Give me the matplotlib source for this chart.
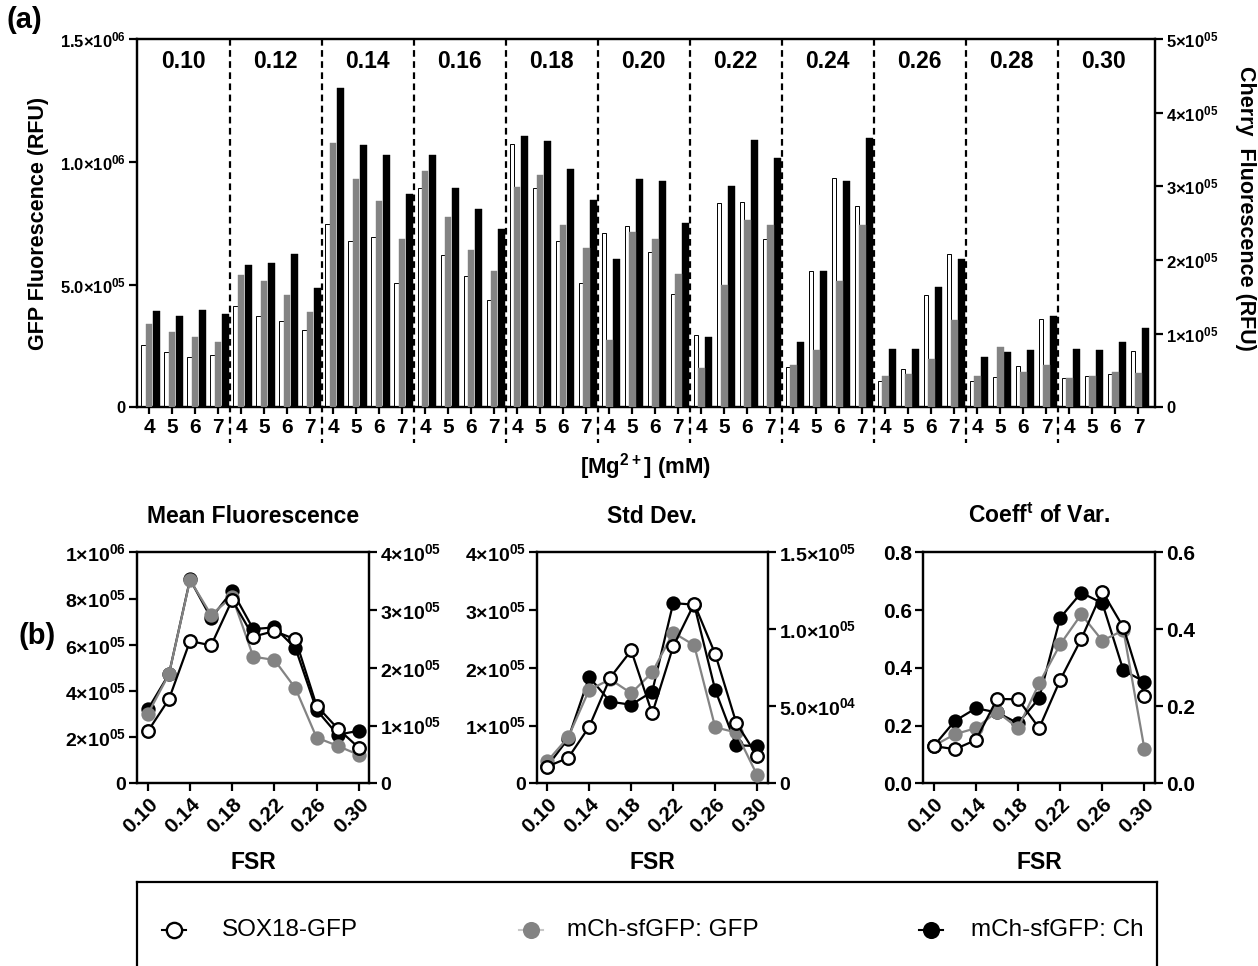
import matplotlib
matplotlib.use("Agg")
import matplotlib.pyplot as plt
import matplotlib.transforms as mtransforms
import numpy as np

plt.rcParams['font.family'] = ['Liberation Sans', 'DejaVu Sans']
plt.rcParams['font.weight'] = 'bold'
plt.rcParams['mathtext.fontset'] = 'custom'
plt.rcParams['mathtext.rm'] = 'Liberation Sans:bold'
plt.rcParams['mathtext.bf'] = 'Liberation Sans:bold'
plt.rcParams['mathtext.it'] = 'Liberation Sans:bold'
plt.rcParams['mathtext.default'] = 'rm'

# ---------------- data: panel (a) ----------------
fsr_groups = ["0.10", "0.12", "0.14", "0.16", "0.18", "0.20", "0.22", "0.24", "0.26", "0.28", "0.30"]
mg_levels = ["4", "5", "6", "7"]

# SOX18-GFP (left axis, RFU)
sox18_gfp = [2.53e5, 2.25e5, 2.04e5, 2.12e5,
             4.11e5, 3.72e5, 3.52e5, 3.14e5,
             7.47e5, 6.76e5, 6.94e5, 5.08e5,
             8.95e5, 6.22e5, 5.33e5, 4.37e5,
             1.071e6, 8.95e5, 6.76e5, 5.05e5,
             7.09e5, 7.37e5, 6.31e5, 4.60e5,
             2.93e5, 8.31e5, 8.38e5, 6.84e5,
             1.64e5, 5.57e5, 9.32e5, 8.21e5,
             1.06e5, 1.56e5, 4.57e5, 6.23e5,
             1.09e5, 1.22e5, 1.70e5, 3.60e5,
             1.18e5, 1.28e5, 1.36e5, 2.31e5]
# mCh-sfGFP: GFP (left axis, RFU)
mch_gfp = [3.39e5, 3.05e5, 2.86e5, 2.65e5,
           5.38e5, 5.14e5, 4.59e5, 3.90e5,
           1.076e6, 9.30e5, 8.42e5, 6.87e5,
           9.64e5, 7.76e5, 6.42e5, 5.57e5,
           8.96e5, 9.48e5, 7.43e5, 6.49e5,
           2.74e5, 7.15e5, 6.86e5, 5.44e5,
           1.60e5, 4.98e5, 7.63e5, 7.43e5,
           1.72e5, 2.33e5, 5.14e5, 7.43e5,
           1.29e5, 1.37e5, 1.95e5, 3.54e5,
           1.29e5, 2.44e5, 1.43e5, 1.71e5,
           1.21e5, 1.26e5, 1.44e5, 1.40e5]
# mCh-sfGFP: Ch (right axis, RFU)
mch_ch = [1.31e5, 1.24e5, 1.32e5, 1.27e5,
          1.93e5, 1.96e5, 2.08e5, 1.62e5,
          4.33e5, 3.56e5, 3.43e5, 2.90e5,
          3.42e5, 2.98e5, 2.69e5, 2.42e5,
          3.68e5, 3.62e5, 3.24e5, 2.82e5,
          2.02e5, 3.10e5, 3.07e5, 2.50e5,
          0.955e5, 3.00e5, 3.63e5, 3.39e5,
          0.887e5, 1.85e5, 3.07e5, 3.65e5,
          0.787e5, 0.787e5, 1.63e5, 2.01e5,
          0.688e5, 0.747e5, 0.783e5, 1.244e5,
          0.792e5, 0.783e5, 0.887e5, 1.07e5]

# ---------------- data: panel (b) ----------------
fsr = [0.10, 0.12, 0.14, 0.16, 0.18, 0.20, 0.22, 0.24, 0.26, 0.28, 0.30]

mean_sox = [2.25e5, 3.64e5, 6.16e5, 5.97e5, 7.94e5, 6.35e5, 6.59e5, 6.23e5, 3.36e5, 2.37e5, 1.54e5]
mean_gfp = [3.00e5, 4.72e5, 8.80e5, 7.29e5, 8.08e5, 5.48e5, 5.34e5, 4.11e5, 1.98e5, 1.62e5, 1.23e5]
mean_ch = [1.28e5, 1.89e5, 3.53e5, 2.86e5, 3.33e5, 2.67e5, 2.70e5, 2.34e5, 1.27e5, 0.84e5, 0.91e5]

sd_sox = [2.9e4, 4.4e4, 9.8e4, 1.83e5, 2.30e5, 1.21e5, 2.37e5, 3.11e5, 2.24e5, 1.05e5, 4.7e4]
sd_gfp = [3.8e4, 7.97e4, 1.62e5, 1.80e5, 1.56e5, 1.92e5, 2.61e5, 2.39e5, 9.7e4, 8.8e4, 1.4e4]
sd_ch = [1.1e4, 2.9e4, 6.9e4, 5.3e4, 5.1e4, 5.95e4, 1.17e5, 1.16e5, 6.06e4, 2.47e4, 2.42e4]

cv_sox = [0.129, 0.118, 0.150, 0.292, 0.291, 0.191, 0.358, 0.500, 0.664, 0.540, 0.303]
cv_gfp = [0.13, 0.170, 0.191, 0.248, 0.191, 0.346, 0.481, 0.585, 0.494, 0.53, 0.118]
cv_ch = [0.097, 0.162, 0.195, 0.184, 0.156, 0.221, 0.430, 0.495, 0.468, 0.293, 0.264]

legend_labels = ["SOX18-GFP", "mCh-sfGFP: GFP", "mCh-sfGFP: Ch"]

GRAY = "#838383"
LW = 1.6

W, H = 1258, 966
fig = plt.figure(figsize=(W / 100, H / 100), dpi=100)


def px_axes(x0, y0, x1, y1):
    return fig.add_axes([x0 / W, 1 - y1 / H, (x1 - x0) / W, (y1 - y0) / H])


def sci(m, e):
    return m + "\u00d710$^{" + e + "}$"


def style_spines(ax, lw=LW):
    for s in ax.spines.values():
        s.set_linewidth(lw)


# ================= panel (a) =================
axA = px_axes(137, 39, 1155, 407.3)
axA2 = axA.twinx()
n = len(sox18_gfp)
x = np.arange(n)
axA.bar(x - 0.2375, sox18_gfp, width=0.185, color="white", edgecolor="black", linewidth=0.7, zorder=2)
axA.bar(x, mch_gfp, width=0.29, color=GRAY, edgecolor=GRAY, linewidth=0.3, zorder=3)
axA2.bar(x + 0.31, mch_ch, width=0.30, color="black", edgecolor="black", linewidth=0.3)
axA.set_zorder(axA2.get_zorder() + 1)
axA.patch.set_visible(False)

axA.set_xlim(-0.52, n - 1 + 0.72)
axA.set_ylim(0, 1.5e6)
axA2.set_ylim(0, 5e5)
axA.set_xticks(x)
axA.set_xticklabels(mg_levels * len(fsr_groups), fontsize=15, fontweight="bold")
axA.set_yticks([0, 5e5, 1e6, 1.5e6])
axA.set_yticklabels(["0", sci("5.0", "05"), sci("1.0", "06"), sci("1.5", "06")], fontsize=12, fontweight="bold")
axA2.set_yticks([0, 1e5, 2e5, 3e5, 4e5, 5e5])
axA2.set_yticklabels(["0"] + [sci(str(k), "05") for k in range(1, 6)], fontsize=12, fontweight="bold")
axA.tick_params(axis="x", length=5, width=LW, pad=3)
axA.tick_params(axis="y", length=6, width=LW, pad=2)
axA2.tick_params(axis="y", length=6, width=LW, pad=2)
style_spines(axA)
style_spines(axA2)

trans = mtransforms.blended_transform_factory(axA.transData, axA.transAxes)
for g in range(1, len(fsr_groups)):
    xb = 4 * g - 0.5
    axA.plot([xb, xb], [1, -0.097], transform=trans, color="black", lw=1.6,
             linestyle=(0, (3.0, 2.0)), clip_on=False, zorder=5)
for g, lab in enumerate(fsr_groups):
    axA.text(4 * g + 1.5, 0.940, lab, transform=trans, ha="center", va="center",
             fontsize=16.5, fontweight="bold")

axA.set_ylabel("GFP Fluorescence (RFU)", fontsize=15.5, fontweight="bold", labelpad=8)
axA2.set_ylabel("Cherry  Fluorescence (RFU)", fontsize=15.5, fontweight="bold", rotation=270,
                va="center")
axA2.yaxis.set_label_coords((1245 - 137) / (1155 - 137), (407.3 - 208) / 368.3)
axA.set_xlabel("[Mg$^{2+}$] (mM)", fontsize=16, fontweight="bold", labelpad=10)

fig.text(6 / W, 1 - 20 / H, "(a)", fontsize=21, fontweight="bold", va="center", ha="left")
fig.text(18 / W, 1 - 636 / H, "(b)", fontsize=21, fontweight="bold", va="center", ha="left")

# ================= panel (b) =================
panels = [
    dict(box=(137.3, 552.3, 369.3, 783.3), title="Mean Fluorescence",
         data=(mean_sox, mean_gfp, mean_ch),
         lticks=[0, 2e5, 4e5, 6e5, 8e5, 1e6],
         llabels=["0", sci("2", "05"), sci("4", "05"), sci("6", "05"), sci("8", "05"), sci("1", "06")],
         rticks=[0, 1e5, 2e5, 3e5, 4e5],
         rlabels=["0", sci("1", "05"), sci("2", "05"), sci("3", "05"), sci("4", "05")],
         lfs=14, rfs=14),
    dict(box=(536.7, 552.3, 767.7, 783.3), title="Std Dev.",
         data=(sd_sox, sd_gfp, sd_ch),
         lticks=[0, 1e5, 2e5, 3e5, 4e5],
         llabels=["0", sci("1", "05"), sci("2", "05"), sci("3", "05"), sci("4", "05")],
         rticks=[0, 5e4, 1e5, 1.5e5],
         rlabels=["0", sci("5.0", "04"), sci("1.0", "05"), sci("1.5", "05")],
         lfs=14, rfs=14),
    dict(box=(923.3, 552.3, 1155, 783.3), title="Coeff$^{t}$ of Var.",
         data=(cv_sox, cv_gfp, cv_ch),
         lticks=[0, 0.2, 0.4, 0.6, 0.8],
         llabels=["0.0", "0.2", "0.4", "0.6", "0.8"],
         rticks=[0, 0.2, 0.4, 0.6],
         rlabels=["0.0", "0.2", "0.4", "0.6"],
         lfs=15, rfs=15),
]

for p in panels:
    ax = px_axes(*p["box"])
    ax2 = ax.twinx()
    sox, gfp, ch = p["data"]
    ax2.plot(fsr, ch, color="black", lw=LW, marker="o", ms=9, mfc="black", mec="black", mew=1.3)
    ax.plot(fsr, gfp, color=GRAY, lw=LW, marker="o", ms=9, mfc=GRAY, mec=GRAY, mew=1.3, zorder=3)
    ax.plot(fsr, sox, color="black", lw=LW, marker="o", ms=9, mfc="white", mec="black", mew=1.7, zorder=4)
    ax.set_zorder(ax2.get_zorder() + 1)
    ax.patch.set_visible(False)
    ax.set_xlim(0.09, 0.31)
    ax.set_ylim(p["lticks"][0], p["lticks"][-1])
    ax2.set_ylim(p["rticks"][0], p["rticks"][-1])
    ax.set_yticks(p["lticks"])
    ax.set_yticklabels(p["llabels"], fontsize=p["lfs"], fontweight="bold")
    ax2.set_yticks(p["rticks"])
    ax2.set_yticklabels(p["rlabels"], fontsize=p["rfs"], fontweight="bold")
    xt = [0.10, 0.14, 0.18, 0.22, 0.26, 0.30]
    ax.set_xticks(xt)
    ax.set_xticklabels(["%.2f" % v for v in xt], rotation=45, ha="right", rotation_mode="anchor",
                       fontsize=15, fontweight="bold")
    ax.tick_params(axis="both", length=6, width=LW, pad=2)
    ax2.tick_params(axis="y", length=6, width=LW, pad=2)
    style_spines(ax)
    style_spines(ax2)
    ax.set_title(p["title"], fontsize=16.5, fontweight="bold", pad=21)
    ax.set_xlabel("FSR", fontsize=16.5, fontweight="bold", labelpad=10)

# ================= legend box =================
axL = fig.add_axes([137 / W, 0, (1157 - 137) / W, (966 - 882) / H])
axL.set_xlim(0, 1)
axL.set_ylim(0, 1)
axL.set_xticks([])
axL.set_yticks([])
for s in ["left", "right", "top"]:
    axL.spines[s].set_linewidth(LW)
axL.spines["bottom"].set_visible(False)
legend_styles = [
    dict(color="black", mfc="white", mec="black", mew=1.7, x=(174 - 137) / 1020, tx=(222 - 137) / 1020),
    dict(color="#c8c8c8", mfc=GRAY, mec=GRAY, mew=1.3, x=(531 - 137) / 1020, tx=(567 - 137) / 1020),
    dict(color="black", mfc="black", mec="black", mew=1.3, x=(931 - 137) / 1020, tx=(971 - 137) / 1020),
]
ly = 1 - (930 - 882) / 84
for st, lab in zip(legend_styles, legend_labels):
    axL.plot([st["x"] - 0.012, st["x"] + 0.012], [ly, ly], color=st["color"], lw=1.5)
    axL.plot([st["x"]], [ly], marker="o", ms=11, mfc=st["mfc"], mec=st["mec"], mew=st["mew"], ls="none")
    axL.text(st["tx"], ly, lab, fontsize=17.5, fontweight="normal", va="center", ha="left")

fig.savefig("out.png", dpi=100)
